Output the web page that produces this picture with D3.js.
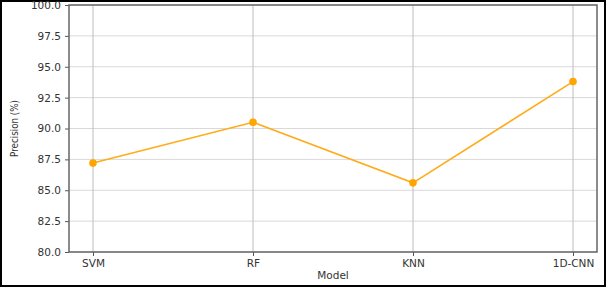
<!DOCTYPE html>
<html>
<head>
<meta charset="utf-8">
<script src="https://cdn.jsdelivr.net/npm/d3@7"></script>
<style>
  body { margin: 0; background: #fff; }
  svg { display: block; font-family: "DejaVu Sans", sans-serif; }
</style>
</head>
<body>
<div id="wrapper"></div>
<script>
const models = ["SVM", "RF", "KNN", "1D-CNN"];
const precision = [87.2, 90.5, 85.6, 93.8];
const yTicks = [80, 82.5, 85, 87.5, 90, 92.5, 95, 97.5, 100];

const dimension = {
    width: 606,
    height: 287,
    margin: { top: 5, left: 69, bottom: 35, right: 9 }
};
dimension.boundedWidth = dimension.width - dimension.margin.left - dimension.margin.right;
dimension.boundedHeight = dimension.height - dimension.margin.top - dimension.margin.bottom;

const svg = d3.select("#wrapper").append("svg")
    .attr("width", dimension.width)
    .attr("height", dimension.height);

// outer frame of the figure
svg.append("rect")
    .attr("x", 1).attr("y", 1)
    .attr("width", dimension.width - 2).attr("height", dimension.height - 2)
    .attr("fill", "none").attr("stroke", "#000").attr("stroke-width", 2);

const bounded = svg.append("g")
    .attr("transform", `translate(${dimension.margin.left},${dimension.margin.top})`);

// matplotlib-like 5% margins on the categorical axis
const xScaler = d3.scaleLinear()
    .domain([-0.15, models.length - 1 + 0.15])
    .range([0, dimension.boundedWidth]);
const yScaler = d3.scaleLinear()
    .domain([80, 100])
    .range([dimension.boundedHeight, 0]);

// grid
bounded.append("g").selectAll("line").data(yTicks).join("line")
    .attr("x1", 0).attr("x2", dimension.boundedWidth)
    .attr("y1", d => yScaler(d)).attr("y2", d => yScaler(d))
    .attr("stroke", "#d9d9d9").attr("stroke-width", 1);
bounded.append("g").selectAll("line").data(models).join("line")
    .attr("x1", (d, i) => xScaler(i)).attr("x2", (d, i) => xScaler(i))
    .attr("y1", 0).attr("y2", dimension.boundedHeight)
    .attr("stroke", "#bdbdbd").attr("stroke-width", 1);

// axes
const x_axis = d3.axisBottom(xScaler)
    .tickValues(d3.range(models.length))
    .tickFormat(i => models[i])
    .tickSize(4).tickPadding(4);
const xg = bounded.append("g")
    .attr("transform", `translate(0,${dimension.boundedHeight})`)
    .call(x_axis);
const y_axis = d3.axisLeft(yScaler)
    .tickValues(yTicks)
    .tickFormat(d3.format(".1f"))
    .tickSize(4).tickPadding(4);
const yg = bounded.append("g").call(y_axis);
[xg, yg].forEach(g => {
    g.select(".domain").remove();
    g.selectAll(".tick line").attr("stroke", "#555");
    g.selectAll("text").attr("fill", "#333").attr("font-size", 10.5)
        .attr("font-family", "DejaVu Sans, sans-serif");
});

// frame of the axes
bounded.append("rect")
    .attr("width", dimension.boundedWidth).attr("height", dimension.boundedHeight)
    .attr("fill", "none").attr("stroke", "#666").attr("stroke-width", 1.5);

// line + markers
const lineGenerator = d3.line()
    .x((d, i) => xScaler(i))
    .y(d => yScaler(d));
bounded.append("path")
    .attr("d", lineGenerator(precision))
    .attr("fill", "none")
    .attr("stroke", "#ffab1a")
    .attr("stroke-width", 1.6);
bounded.append("g").selectAll("circle").data(precision).join("circle")
    .attr("cx", (d, i) => xScaler(i))
    .attr("cy", d => yScaler(d))
    .attr("r", 3.8)
    .attr("fill", "#ffa500");

// labels
svg.append("text")
    .attr("x", dimension.margin.left + dimension.boundedWidth / 2)
    .attr("y", 279)
    .attr("text-anchor", "middle")
    .attr("font-size", 10.5).attr("fill", "#333")
    .text("Model");
svg.append("text")
    .attr("transform", `translate(18,${dimension.margin.top + dimension.boundedHeight / 2}) rotate(-90)`)
    .attr("text-anchor", "middle")
    .attr("font-size", 10.5).attr("fill", "#333")
    .attr("textLength", 57).attr("lengthAdjust", "spacingAndGlyphs")
    .text("Precision (%)");
</script>
</body>
</html>
